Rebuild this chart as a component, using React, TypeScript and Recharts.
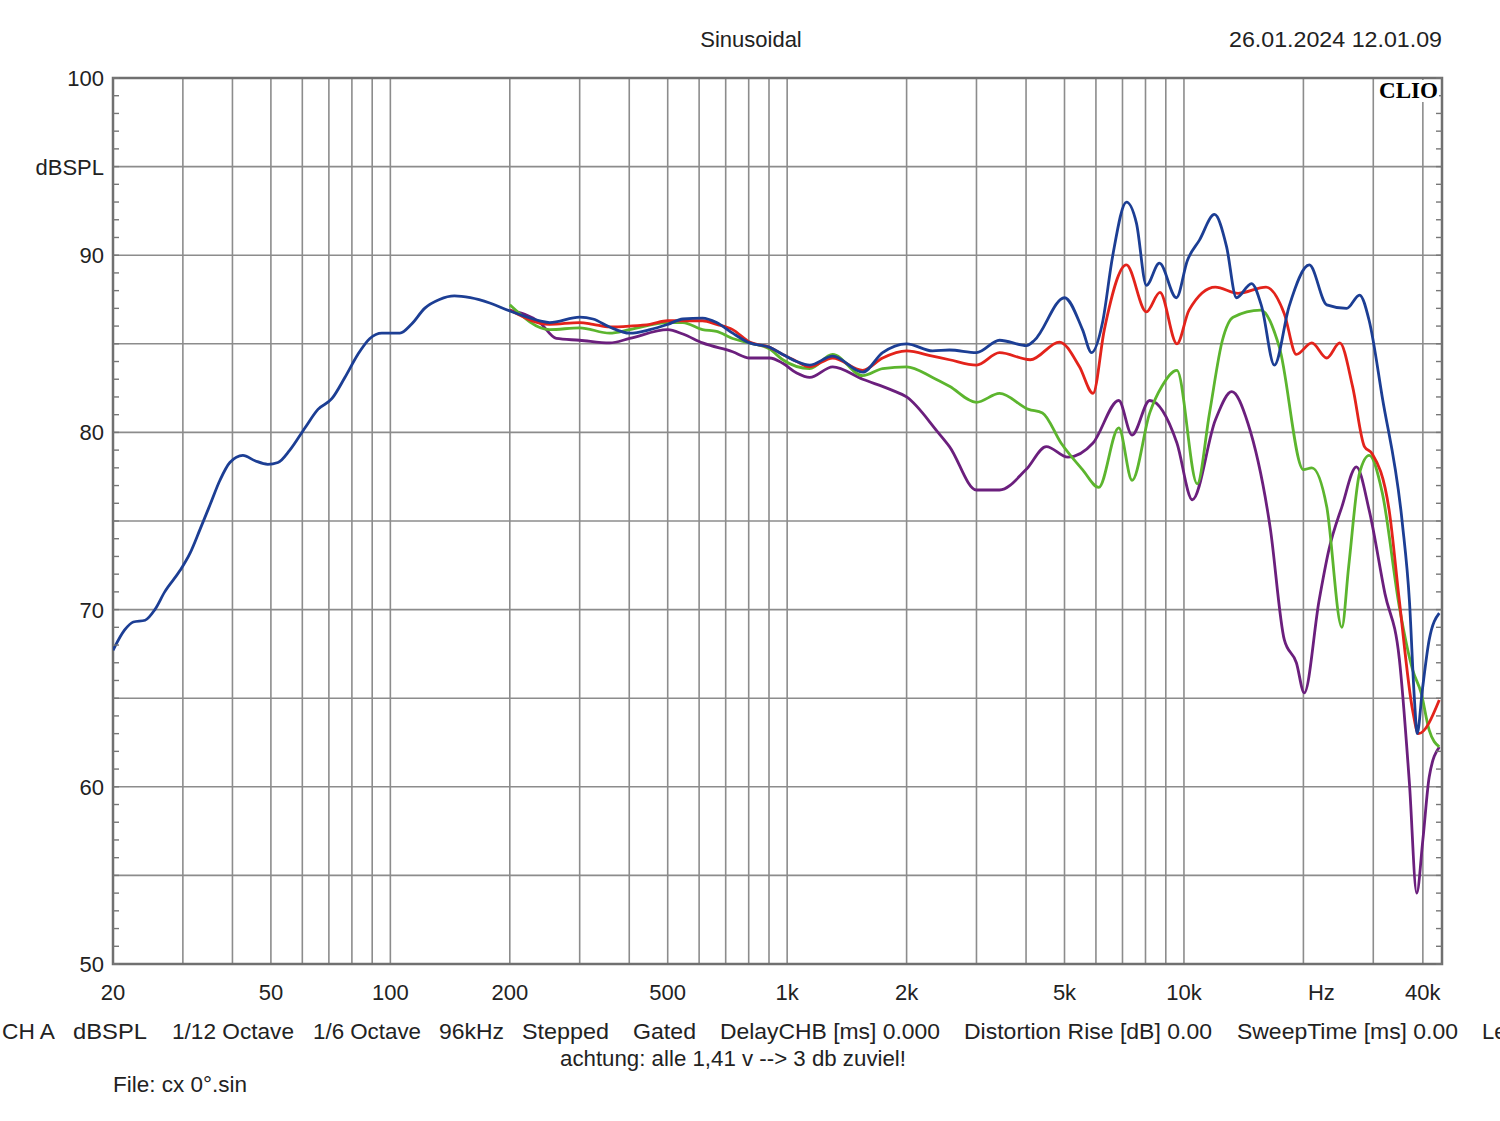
import {
  LineChart,
  Line,
  XAxis,
  YAxis,
  CartesianGrid,
  ReferenceArea,
} from "recharts";

// frequency grid + labels
const xTicks = [
  20, 30, 40, 50, 60, 70, 80, 90, 100, 200, 300, 400, 500, 600, 700, 800, 900,
  1000, 2000, 3000, 4000, 5000, 6000, 7000, 8000, 9000, 10000, 20000, 30000, 40000,
];
const xLabels: Record<number, string> = {
  20: "20",
  50: "50",
  100: "100",
  200: "200",
  500: "500",
  1000: "1k",
  2000: "2k",
  5000: "5k",
  10000: "10k",
  20000: "Hz",
  40000: "40k",
};
const yGrid = [50, 55, 60, 65, 70, 75, 80, 85, 90, 95, 100];
const yLabels: Record<number, string> = {
  50: "50",
  60: "60",
  70: "70",
  80: "80",
  90: "90",
  95: "dBSPL",
  100: "100",
};
// small 1 dB ticks on both frame sides
const yMinor = [
  50, 51, 52, 53, 54, 55, 56, 57, 58, 59, 60, 61, 62, 63, 64, 65, 66, 67, 68, 69,
  70, 71, 72, 73, 74, 75, 76, 77, 78, 79, 80, 81, 82, 83, 84, 85, 86, 87, 88, 89,
  90, 91, 92, 93, 94, 95, 96, 97, 98, 99, 100,
];

// blue curve (0°)
const blueHz = [
  20, 21.4, 22.5, 24.1, 25.5, 27, 29.5, 31.3, 33.1, 35.1, 37.2, 39.4, 42.5, 45.6,
  49.1, 52.1, 55.8, 60.9, 65.7, 71.2, 76.8, 82.8, 88.8, 95.2, 105.7, 113, 122,
  133, 145, 159, 178, 200, 238, 252, 300, 324, 357, 401, 451, 500, 546, 612, 664,
  729, 804, 904, 975, 1057, 1140, 1302, 1550, 1740, 2000, 2325, 2565, 3000, 3430,
  4013, 4200, 5000, 5550, 5850, 6234, 6606, 7163, 7592, 8041, 8672, 9572, 10200,
  10940, 11940, 12800, 13560, 14800, 15700, 16900, 18400, 20700, 22900, 25700,
  27700, 29300, 31600, 35500, 37000, 38100, 38700, 39900, 41500, 44000,
];
const blueDb = [
  67.7, 68.85, 69.3, 69.4, 70.0, 71.0, 72.2, 73.2, 74.5, 75.9, 77.3, 78.3, 78.7,
  78.4, 78.2, 78.3, 79.0, 80.25, 81.3, 81.9, 83.1, 84.4, 85.3, 85.6, 85.6, 86.1,
  87.0, 87.5, 87.7, 87.6, 87.3, 86.85, 86.3, 86.2, 86.5, 86.4, 85.95, 85.6, 85.8,
  86.1, 86.4, 86.45, 86.2, 85.6, 85.05, 84.8, 84.4, 84.0, 83.8, 84.3, 83.4, 84.5,
  85.0, 84.6, 84.65, 84.5, 85.2, 84.9, 85.2, 87.6, 85.8, 84.5, 86.2, 89.9, 93.0,
  91.8, 88.3, 89.55, 87.6, 89.7, 90.85, 92.3, 90.5, 87.6, 88.4, 87.1, 83.8, 87.1,
  89.45, 87.2, 87.0, 87.75, 86.3, 82.0, 74.9, 70.5, 64.9, 63.0, 65.5, 68.3, 69.8,
];

// red curve
const redHz = [
  200, 252, 300, 324, 357, 401, 451, 500, 612, 664, 729, 804, 904, 975, 1057,
  1140, 1302, 1550, 1740, 2000, 2325, 2565, 3000, 3430, 4100, 4856, 5454, 5900,
  6300, 7160, 8040, 8700, 9600, 10300, 12000, 13700, 16100, 17900, 19200, 21000,
  22900, 24700, 26600, 28500, 29800, 32900, 34900, 37700, 39000, 44000,
];
const redDb = [
  86.9, 86.1, 86.2, 86.1, 85.95, 86.0, 86.1, 86.3, 86.3, 86.1, 85.8, 85.1, 84.8,
  84.4, 84.0, 83.7, 84.2, 83.5, 84.2, 84.6, 84.3, 84.1, 83.8, 84.5, 84.1, 85.1,
  83.7, 82.2, 85.8, 89.45, 86.8, 87.9, 85.0, 86.9, 88.2, 87.85, 88.2, 86.7, 84.4,
  85.05, 84.2, 85.05, 82.6, 79.2, 78.8, 75.6, 70.5, 64.3, 63.0, 64.9,
];

// green curve
const greenHz = [
  200, 252, 300, 357, 401, 500, 546, 612, 664, 729, 804, 904, 975, 1140, 1302,
  1550, 1740, 2000, 2325, 2565, 3000, 3430, 4060, 4400, 4900, 5550, 6100, 6850,
  7400, 8200, 8800, 9600, 10800, 11600, 12500, 13300, 15600, 17400, 20000, 21000,
  22900, 25000, 26000, 27700, 29300, 31600, 34900, 37700, 39600, 41500, 44000,
];
const greenDb = [
  87.2, 85.8, 85.9, 85.6, 85.8, 86.2, 86.2, 85.8, 85.7, 85.3, 85.05, 84.7, 84.1,
  83.6, 84.4, 83.2, 83.6, 83.7, 83.1, 82.6, 81.7, 82.2, 81.3, 81.1, 79.4, 77.9,
  76.9, 80.25, 77.3, 81.1, 82.6, 83.5, 77.1, 81.1, 85.2, 86.5, 86.9, 84.8, 77.9,
  78.0, 75.8, 69.0, 72.4, 77.7, 78.7, 76.6, 70.15, 66.6, 65.3, 63.2, 62.25,
];

// purple curve
const purpleHz = [
  200, 238, 262, 300, 357, 401, 500, 546, 612, 729, 804, 904, 975, 1057, 1140,
  1302, 1550, 1830, 2000, 2400, 2565, 3000, 3430, 4000, 4500, 5100, 5900, 6850,
  7400, 8200, 9600, 10500, 12000, 13200, 14500, 16500, 17900, 19200, 20100,
  21900, 23200, 25000, 27200, 29300, 32100, 34900, 37000, 38600, 40000, 41500,
  44000,
];
const purpleDb = [
  86.9, 86.2, 85.3, 85.2, 85.05, 85.3, 85.8, 85.55, 85.05, 84.55, 84.2, 84.2,
  83.9, 83.35, 83.1, 83.7, 83.0, 82.4, 82.0, 80.0, 79.2, 76.75, 76.75, 77.9, 79.2,
  78.6, 79.4, 81.8, 79.85, 81.8, 79.4, 76.2, 80.7, 82.3, 80.5, 74.6, 68.3, 67.0,
  65.3, 70.5, 73.4, 75.8, 78.05, 75.6, 70.9, 67.2, 60.2, 54.0, 57.0, 60.55, 62.25,
];

const toRows = (hz: number[], db: number[]) =>
  hz.map((f, i) => ({ f, db: db[i] }));

const blue = toRows(blueHz, blueDb);
const red = toRows(redHz, redDb);
const green = toRows(greenHz, greenDb);
const purple = toRows(purpleHz, purpleDb);

const FONT = "'Liberation Sans', Arial, sans-serif";
const GRID = "#8c8c8c";

// layout
const W = 1500;
const H = 1121;
const PLOT_LEFT = 113;
const PLOT_RIGHT = 58;
const PLOT_W = W - PLOT_LEFT - PLOT_RIGHT;
const Y_AXIS_W = 60;
const TICK = 6;

const XTick = ({ x, y, payload }: any) => {
  const label = xLabels[payload.value];
  if (!label) return null;
  const dx = payload.value === 20000 ? 18 : 0;
  return (
    <text x={x + dx} y={y} dy={30} textAnchor="middle" fontSize={22} fill="#222" fontFamily={FONT}>
      {label}
    </text>
  );
};

// label outside + short inward tick on left and right frame
const YTick = ({ x, y, payload }: any) => {
  const label = yLabels[payload.value];
  const axisX = x + TICK;
  return (
    <g>
      <line x1={axisX} x2={axisX + TICK} y1={y} y2={y} stroke="#777" strokeWidth={1.4} />
      <line x1={axisX + PLOT_W - TICK} x2={axisX + PLOT_W} y1={y} y2={y} stroke="#777" strokeWidth={1.4} />
      {label && (
        <text x={x - 3} y={y} dy={8} textAnchor="end" fontSize={22} fill="#222" fontFamily={FONT}>
          {label}
        </text>
      )}
    </g>
  );
};

export default function App() {
  return (
    <div
      style={{
        position: "absolute",
        left: 0,
        top: 0,
        width: W,
        height: H,
        background: "#fff",
        overflow: "hidden",
      }}
    >
      <LineChart
        width={W}
        height={H}
        margin={{ top: 78, right: PLOT_RIGHT, bottom: 127, left: PLOT_LEFT - Y_AXIS_W }}
      >
        <CartesianGrid stroke={GRID} strokeWidth={1.6} horizontalValues={yGrid} />
        <XAxis
          dataKey="f"
          type="number"
          scale="log"
          domain={[20, 44700]}
          ticks={xTicks}
          interval={0}
          allowDataOverflow
          axisLine={false}
          tickLine={false}
          tickSize={TICK}
          tickMargin={0}
          height={30}
          tick={<XTick />}
        />
        <YAxis
          type="number"
          domain={[50, 100]}
          ticks={yMinor}
          interval={0}
          allowDataOverflow
          axisLine={false}
          tickLine={false}
          tickSize={TICK}
          tickMargin={0}
          width={Y_AXIS_W}
          tick={<YTick />}
        />
        <ReferenceArea
          x1={20}
          x2={44700}
          y1={50}
          y2={100}
          fill="none"
          fillOpacity={0}
          stroke="#707070"
          strokeWidth={2.5}
        />
        <Line data={purple} dataKey="db" type="monotone" stroke="#6b1f7d" strokeWidth={2.8} dot={false} isAnimationActive={false} />
        <Line data={green} dataKey="db" type="monotone" stroke="#5cb52e" strokeWidth={2.8} dot={false} isAnimationActive={false} />
        <Line data={red} dataKey="db" type="monotone" stroke="#e3231b" strokeWidth={2.8} dot={false} isAnimationActive={false} />
        <Line data={blue} dataKey="db" type="monotone" stroke="#1c3e94" strokeWidth={2.8} dot={false} isAnimationActive={false} />
      </LineChart>

      {/* header / footer texts */}
      <svg
        width={W}
        height={H}
        style={{ position: "absolute", left: 0, top: 0, pointerEvents: "none" }}
        fontFamily={FONT}
        fontSize={22}
        fill="#222"
      >
        <text x={751} y={47} textAnchor="middle">Sinusoidal</text>
        <text x={1229} y={47} textLength={213} lengthAdjust="spacingAndGlyphs">26.01.2024 12.01.09</text>
        <rect x={1376} y={80} width={63} height={22} fill="#fff" />
        <text
          x={1379}
          y={98}
          fontFamily="'Liberation Serif', 'DejaVu Serif', serif"
          fontWeight="bold"
          fontSize={23}
          fill="#000"
          textLength={59}
          lengthAdjust="spacingAndGlyphs"
        >
          CLIO
        </text>
        <text x={2} y={1039} textLength={53} lengthAdjust="spacingAndGlyphs">CH A</text>
        <text x={73} y={1039} textLength={74} lengthAdjust="spacingAndGlyphs">dBSPL</text>
        <text x={172} y={1039} textLength={122} lengthAdjust="spacingAndGlyphs">1/12 Octave</text>
        <text x={313} y={1039} textLength={108} lengthAdjust="spacingAndGlyphs">1/6 Octave</text>
        <text x={439} y={1039} textLength={65} lengthAdjust="spacingAndGlyphs">96kHz</text>
        <text x={522} y={1039} textLength={87} lengthAdjust="spacingAndGlyphs">Stepped</text>
        <text x={633} y={1039} textLength={63} lengthAdjust="spacingAndGlyphs">Gated</text>
        <text x={720} y={1039} textLength={220} lengthAdjust="spacingAndGlyphs">DelayCHB [ms] 0.000</text>
        <text x={964} y={1039} textLength={248} lengthAdjust="spacingAndGlyphs">Distortion Rise [dB] 0.00</text>
        <text x={1237} y={1039} textLength={221} lengthAdjust="spacingAndGlyphs">SweepTime [ms] 0.00</text>
        <text x={1482} y={1039}>Level</text>
        <text x={560} y={1066} textLength={346} lengthAdjust="spacingAndGlyphs">achtung: alle 1,41 v --&gt; 3 db zuviel!</text>
        <text x={113} y={1092} textLength={134} lengthAdjust="spacingAndGlyphs">File: cx 0°.sin</text>
      </svg>
    </div>
  );
}
